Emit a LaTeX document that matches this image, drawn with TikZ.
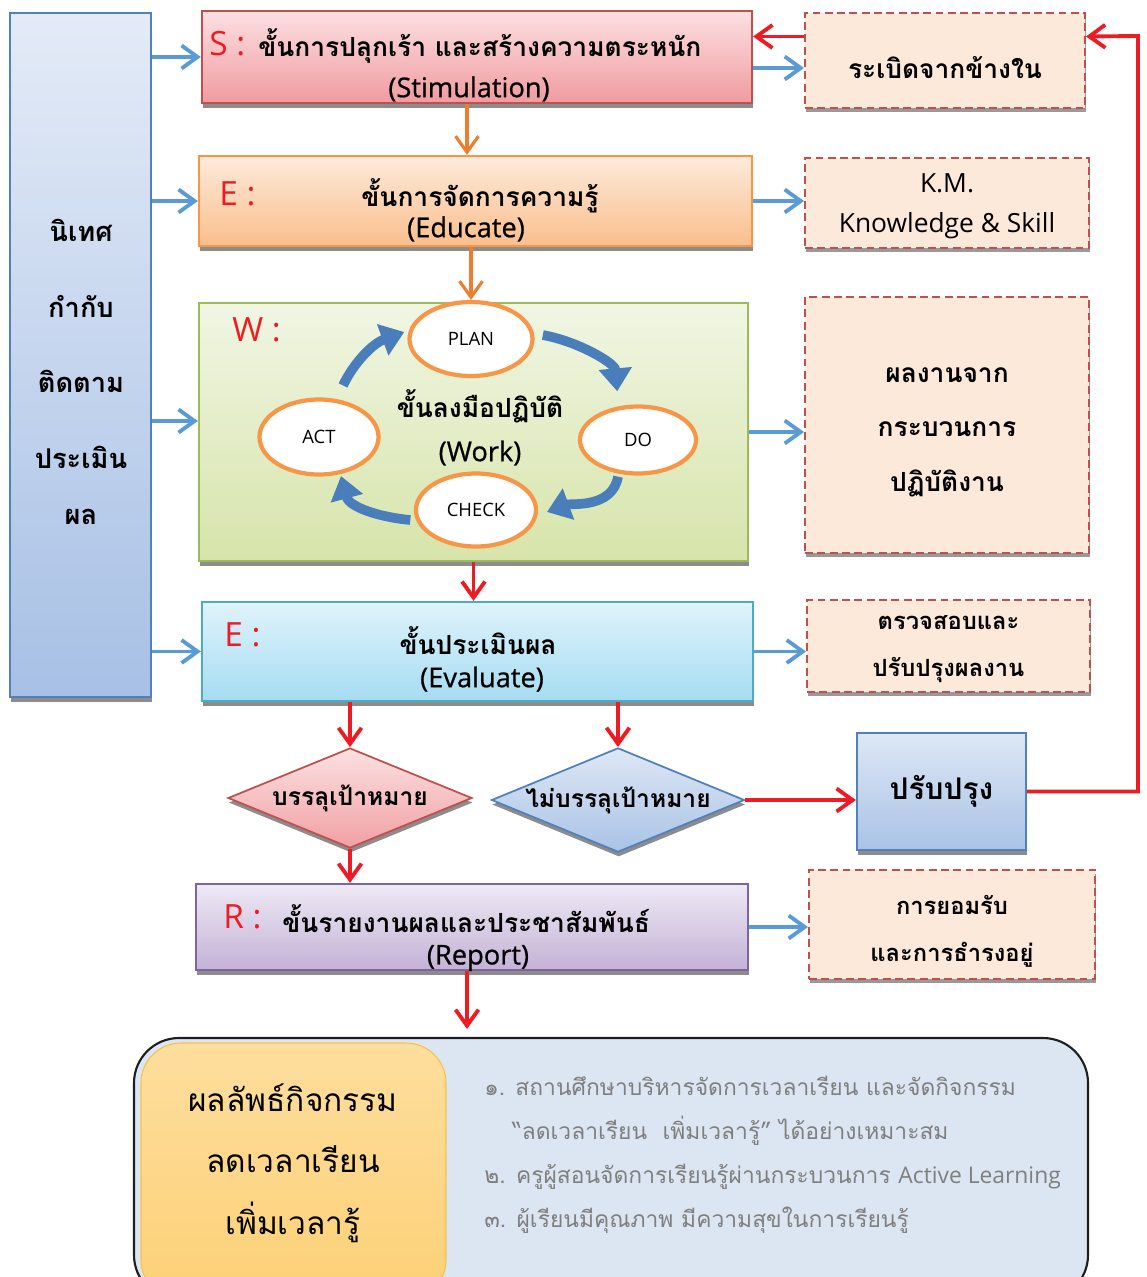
\documentclass[tikz,border=0pt]{standalone}
\usepackage{fontspec}
\setmainfont{Loma}[Script=Thai]
\newfontfamily\latinfont{Open Sans}
\newfontfamily\latinmed{Open Sans}[FakeBold=0.7]
\usetikzlibrary{positioning,arrows.meta,shapes.geometric,shadows}

\newlength{\dpx}
\setlength{\dpx}{0.02cm}

\definecolor{arrblue}{RGB}{91,155,213}
\definecolor{cycblue}{RGB}{74,126,187}
\definecolor{arrred}{RGB}{237,28,36}
\definecolor{arrorange}{RGB}{237,125,49}
\definecolor{ringorange}{RGB}{247,150,70}
\definecolor{notefill}{RGB}{253,233,217}
\definecolor{noteline}{RGB}{192,80,77}
\definecolor{listgray}{RGB}{127,127,127}

\begin{document}
\begin{tikzpicture}[x=0.02cm,y=-0.02cm,
    stage/.style={draw,line width=1.3pt,inner sep=0pt,
      drop shadow={shadow xshift=0.4pt,shadow yshift=-2.6pt,fill=black!45,opacity=1}},
    note/.style={draw=noteline,dash pattern=on 4.5pt off 2.5pt,fill=notefill,line width=1.1pt,inner sep=0pt,
      drop shadow={shadow xshift=0.4pt,shadow yshift=-2.4pt,fill=black!40,opacity=1}},
    notetext/.style={align=center,inner sep=0pt,yshift=-7\dpx,font=\bfseries\fontsize{15}{27}\selectfont},
    head/.style={font=\bfseries\fontsize{15}{18}\selectfont,inner sep=0pt},
    engname/.style={font=\latinmed\fontsize{15.5}{18}\selectfont,inner sep=0pt},
    tag/.style={text=arrred,font=\latinfont\fontsize{19}{23}\selectfont,inner sep=0pt},
    phase/.style={ellipse,draw=ringorange,line width=2.4pt,fill=white,inner sep=0pt,
      font=\latinfont\fontsize{10.5}{13}\selectfont},
    bluearr/.style={draw=arrblue,line width=2.2pt,-{Straight Barb[length=3.2mm,width=4.6mm]}},
    redarr/.style={draw=arrred,line width=2.2pt,-{Straight Barb[length=3.2mm,width=4.6mm]}},
    orangearr/.style={draw=arrorange,line width=1.8pt,-{Straight Barb[length=3.2mm,width=4.6mm]}},
    cyclearr/.style={draw=cycblue,line width=5.5pt,-{Triangle[length=4.6mm,width=6.4mm]}}]

  \clip (0,0) rectangle (1146,1277);

  \node[stage,draw={rgb,255:red,79;green,129;blue,189},top color={rgb,255:red,228;green,235;blue,247},
    bottom color={rgb,255:red,167;green,192;blue,229},minimum width=141\dpx,minimum height=684\dpx] (lbox) at (80.5,355) {};
  \node[head,align=center,font=\bfseries\fontsize{15.5}{43}\selectfont] (lboxtext) at (81,372)
    {นิเทศ\\กำกับ\\ติดตาม\\ประเมิน\\[-11pt]ผล};

  \node[stage,draw=noteline,top color={rgb,255:red,252;green,224;blue,226},
    bottom color={rgb,255:red,240;green,155;blue,160},minimum width=550\dpx,minimum height=92\dpx] (s) at (477,57) {};
  \node[tag,anchor=west] (stag) at (209,44) {S :};
  \node[head,anchor=west] (stitle) at (258,46) {ขั้นการปลุกเร้า และสร้างความตระหนัก};
  \node[engname] (sname) at (469,89) {(Stimulation)};

  \node[stage,draw=ringorange,top color={rgb,255:red,253;green,235;blue,220},
    bottom color={rgb,255:red,250;green,190;blue,140},minimum width=553\dpx,minimum height=90\dpx] (e) at (475.5,201) {};
  \node[tag,anchor=west] (etag) at (219,194) {E :};
  \node[head] (etitle) at (480,196) {ขั้นการจัดการความรู้};
  \node[engname] (ename) at (466,229) {(Educate)};

  \node[stage,draw={rgb,255:red,155;green,187;blue,89},top color={rgb,255:red,240;green,246;blue,228},
    bottom color={rgb,255:red,215;green,228;blue,170},minimum width=549\dpx,minimum height=258\dpx] (w) at (473.5,432) {};
  \node[tag,anchor=west] (wtag) at (232,330) {W :};
  \node[head] (wtitle) at (480,406) {ขั้นลงมือปฏิบัติ};
  \node[engname] (wname) at (480,453) {(Work)};

  \node[phase,minimum width=123\dpx,minimum height=74\dpx] (plan) at (471,339) {PLAN};
  \node[phase,minimum width=116\dpx,minimum height=67\dpx] (do) at (638,440) {DO};
  \node[phase,minimum width=120\dpx,minimum height=73\dpx] (check) at (476,510) {CHECK};
  \node[phase,minimum width=119\dpx,minimum height=75\dpx] (act) at (319,437) {ACT};

  \draw[cyclearr,shorten <=15\dpx,shorten >=5\dpx] (act.65) to[out=65,in=200] (plan.172);
  \draw[cyclearr,shorten <=9\dpx,shorten >=15\dpx] (plan.5) to[out=-10,in=95] (do.120);
  \draw[cyclearr,shorten <=3\dpx,shorten >=10\dpx] (do.-120) to[out=-100,in=20] (check.-5);
  \draw[cyclearr,shorten <=6\dpx,shorten >=2\dpx] (check.190) to[out=175,in=-75] (act.-60);

  \node[stage,draw={rgb,255:red,75;green,172;blue,198},top color={rgb,255:red,224;green,243;blue,251},
    bottom color={rgb,255:red,165;green,220;blue,242},minimum width=551\dpx,minimum height=99\dpx] (ev) at (477.5,651.5) {};
  \node[tag,anchor=west] (evtag) at (224,635) {E :};
  \node[head] (evtitle) at (478,641) {ขั้นประเมินผล};
  \node[engname] (evname) at (482,679) {(Evaluate)};

  \node[stage,diamond,shape aspect=2.4,draw=noteline,line width=1pt,top color={rgb,255:red,252;green,225;blue,226},
    bottom color={rgb,255:red,240;green,160;blue,163},minimum width=244\dpx,minimum height=100\dpx,
    font=\bfseries\fontsize{14}{17}\selectfont] (d1) at (350,798) {บรรลุเป้าหมาย};
  \node[stage,diamond,shape aspect=2.4,draw={rgb,255:red,79;green,129;blue,189},line width=1pt,
    top color={rgb,255:red,222;green,231;blue,245},bottom color={rgb,255:red,170;green,195;blue,230},
    minimum width=253\dpx,minimum height=104\dpx,font=\bfseries\fontsize{14}{17}\selectfont] (d2) at (618,800) {ไม่บรรลุเป้าหมาย};

  \node[stage,draw={rgb,255:red,79;green,129;blue,189},top color={rgb,255:red,222;green,231;blue,245},
    bottom color={rgb,255:red,169;green,195;blue,230},minimum width=169\dpx,minimum height=117\dpx,
    font=\bfseries\fontsize{17}{20}\selectfont] (imp) at (941.5,791.5) {ปรับปรุง};

  \node[stage,draw={rgb,255:red,128;green,100;blue,162},top color={rgb,255:red,238;green,233;blue,244},
    bottom color={rgb,255:red,196;green,178;blue,214},minimum width=552\dpx,minimum height=86\dpx] (r) at (472,927) {};
  \node[tag,anchor=west] (rtag) at (223,917) {R :};
  \node[head,anchor=west] (rtitle) at (282,919) {ขั้นรายงานผลและประชาสัมพันธ์};
  \node[engname] (rname) at (478,958) {(Report)};

  \node[note,minimum width=280\dpx,minimum height=95\dpx,
    label={[notetext,name=b1text]center:ระเบิดจากข้างใน}] (b1) at (945,60.5) {};
  \node[note,minimum width=284\dpx,minimum height=90\dpx,
    label={[notetext,name=b2text,yshift=4\dpx,font=\latinfont\fontsize{15}{23}\selectfont]center:{K.M.\\Knowledge \& Skill}}] (b2) at (947,203) {};
  \node[note,minimum width=284\dpx,minimum height=256\dpx,
    label={[notetext,name=b3text,font=\bfseries\fontsize{15}{31}\selectfont]center:{ผลงานจาก\\กระบวนการ\\ปฏิบัติงาน}}] (b3) at (947,425) {};
  \node[note,minimum width=283\dpx,minimum height=92\dpx,
    label={[notetext,name=b4text,yshift=4\dpx,font=\bfseries\fontsize{13.5}{27}\selectfont]center:{ตรวจสอบและ\\ปรับปรุงผลงาน}}] (b4) at (948.5,646) {};
  \node[note,minimum width=286\dpx,minimum height=109\dpx,
    label={[notetext,name=b5text,font=\bfseries\fontsize{13.5}{27}\selectfont]center:{การยอมรับ\\และการธำรงอยู่}}] (b5) at (952,924.5) {};

  \node[draw={rgb,255:red,30;green,30;blue,30},line width=1.2pt,fill={rgb,255:red,220;green,230;blue,242},
    rounded corners=0.9cm,minimum width=954\dpx,minimum height=262\dpx] (result) at (611,1169) {};
  \node[draw={rgb,255:red,245;green,195;blue,70},line width=0.6pt,top color={rgb,255:red,254;green,222;blue,158},
    bottom color={rgb,255:red,252;green,208;blue,118},rounded corners=0.8cm,minimum width=305\dpx,
    minimum height=257\dpx] (gain) at (293.5,1171.5) {};
  \node[align=center,inner sep=0pt,font=\fontsize{18}{35}\selectfont] (gaintext) at (293,1163)
    {ผลลัพธ์กิจกรรม\\ลดเวลาเรียน\\เพิ่มเวลารู้};
  \node[anchor=west,align=left,inner sep=0pt,text=listgray,font=\fontsize{13}{25}\selectfont] (goals) at (484,1155)
    {๑. สถานศึกษาบริหารจัดการเวลาเรียน และจัดกิจกรรม\\
     \hspace*{28\dpx}“ลดเวลาเรียน\ \ เพิ่มเวลารู้” ได้อย่างเหมาะสม\\
     ๒. ครูผู้สอนจัดการเรียนรู้ผ่านกระบวนการ {\latinfont Active Learning}\\
     ๓. ผู้เรียนมีคุณภาพ มีความสุขในการเรียนรู้};

  \coordinate (turn) at (1138,36);

  \draw[bluearr] (lbox.east |- s.west) -- (s.west);
  \draw[bluearr] (lbox.east |- e.west) -- (e.west);
  \draw[bluearr] ([yshift=11\dpx]lbox.east |- w.west) -- ([yshift=11\dpx]w.west);
  \draw[bluearr] (lbox.east |- ev.west) -- (ev.west);
  \draw[bluearr] ([yshift=-11\dpx]s.east) -- ([yshift=-11\dpx]s.east -| b1.west);
  \draw[bluearr] (e.east) -- (e.east -| b2.west);
  \draw[bluearr] (w.east) -- (w.east -| b3.west);
  \draw[bluearr] (ev.east) -- (ev.east -| b4.west);
  \draw[bluearr] (r.east) -- (r.east -| b5.west);

  \draw[orangearr] ([xshift=-10\dpx]s.south) -- ([xshift=-10\dpx]s.south |- e.north);
  \draw[orangearr] (e.south -| plan.north) -- (plan.north);

  \draw[redarr] (w.south) -- (w.south |- ev.north);
  \draw[redarr] (ev.south -| d1.north) -- (d1.north);
  \draw[redarr] (ev.south -| d2.north) -- (d2.north);
  \draw[redarr] (d1.south) -- (d1.south |- r.north);
  \draw[redarr] (d2.east) -- (d2.east -| imp.west);
  \draw[redarr,shorten >=8\dpx] ([xshift=-5\dpx]r.south) -- ([xshift=-5\dpx]r.south |- result.north);
  \draw[redarr] ([yshift=24\dpx]b1.west) -- ([yshift=24\dpx]b1.west -| s.east);
  \draw[redarr] (imp.east) -| (turn) -- ([yshift=24\dpx]b1.east);
\end{tikzpicture}
\end{document}
